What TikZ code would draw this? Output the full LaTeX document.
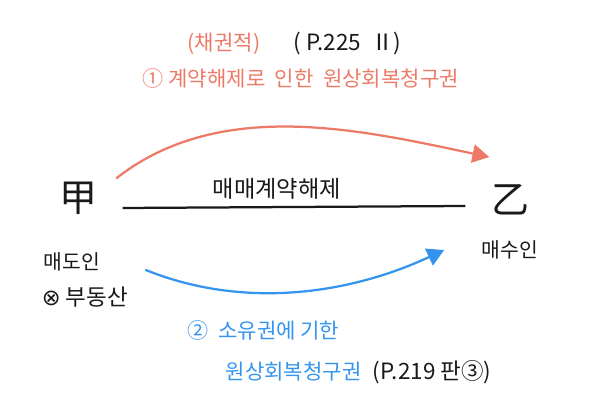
\documentclass[tikz,border=0pt]{standalone}
\usepackage{fontspec}
\setmainfont{Noto Sans CJK KR}
\newfontfamily\symfont{DejaVu Sans}
\usepackage{xcolor}
\usetikzlibrary{
  positioning,
  arrows.meta
}
\definecolor{salmon}{RGB}{236,122,102}
\definecolor{skyblue}{RGB}{52,148,238}
\definecolor{ink}{RGB}{25,25,25}

\begin{document}
\begin{tikzpicture}[
  >=Stealth,
  % --- node styles ---
  party/.style={font=\fontsize{27}{29}\selectfont, text=ink, inner sep=1pt},
  role/.style={font=\fontsize{14.5}{16}\selectfont, text=ink, inner sep=1pt},
  note/.style={font=\fontsize{15}{17}\selectfont, inner sep=1pt},
  redtxt/.style={note, text=salmon},
  bluetxt/.style={note, text=skyblue},
  ref/.style={note, text=ink, font=\fontsize{16}{18}\selectfont},
  arr/.style={line width=1.6pt, line cap=round, -{Triangle[length=12pt, width=13pt]}},
]
\useasboundingbox (0,0) rectangle (15,10.5);

% Parties
\node[party] (jia) at (1.95,5.55) {甲};
\node[party] (yi) at (12.75,5.5) {乙};
\node[role] (seller) at (1.8,3.95) {매도인};
\node[role, below=0.3cm of seller.south west, anchor=north west, xshift=-0.05cm,
  font=\fontsize{16}{18}\selectfont] (estate) {{\symfont ⊗} 부동산};
\node[role] (buyer) at (12.75,4.25) {매수인};

% Top labels
\node[redtxt] (kind) at (5.6,9.4) {(채권적)};
\node[ref, right=0.75cm of kind] (p225) {( P.225 \ Ⅱ)};
\node[redtxt] (claim1) at (7.52,8.55) {① 계약해제로 \ 인한 \ 원상회복청구권};

% Bottom labels
\node[bluetxt, anchor=west] (claim2a) at (4.65,2.25) {② \ 소유권에 기한};
\node[bluetxt, anchor=west] (claim2b) at (5.6,1.2) {원상회복청구권};
\node[ref, right=0.2cm of claim2b] (p219) {(P.219 판③)};

% Contract line
\draw[line width=1.6pt, ink] ([shift={(0.6,-0.25)}]jia.east) -- ([shift={(-0.6,-0.15)}]yi.west)
  node[role, pos=0.45, above=0.12cm, font=\fontsize{16.5}{18}\selectfont] (cancel) {매매계약해제};

% Claims
\draw[arr, salmon] ([shift={(0.45,0.05)}]jia.north east) to[out=38, in=168, looseness=0.9]
  ([shift={(0.0,0.65)}]yi.north west);
\draw[arr, skyblue] ([shift={(1.1,-0.2)}]seller.east) to[out=-22, in=205, looseness=0.9]
  ([xshift=-0.9cm]buyer.west);

\end{tikzpicture}
\end{document}
